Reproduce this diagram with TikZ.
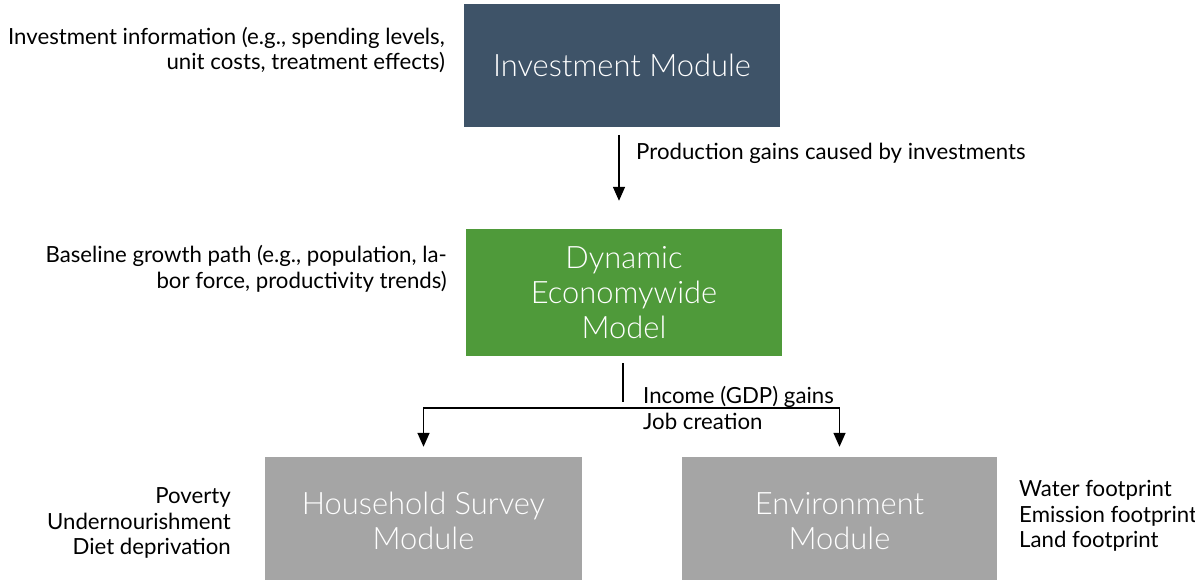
\documentclass[tikz,border=0pt]{standalone}
\usepackage{fontspec}
\setmainfont{Lato}
\newfontfamily\lightfont{Lato Light}
\usetikzlibrary{arrows.meta}
\definecolor{invblue}{RGB}{62,83,104}
\definecolor{dyngreen}{RGB}{79,154,58}
\definecolor{modgray}{RGB}{165,165,165}
\tikzset{
  modbox/.style={rectangle, draw=none, minimum width=316bp, text=white, align=center, inner sep=0pt,
    font=\lightfont\fontsize{31}{35}\selectfont},
  note/.style={inner sep=0pt, font=\fontsize{22.3}{25.8}\selectfont},
  conn/.style={line width=1.5bp, draw=black},
  arr/.style={conn, -{Triangle[width=12bp,length=14bp]}}
}
\begin{document}
\begin{tikzpicture}[x=1bp,y=-1bp]
\useasboundingbox (0,0) rectangle (1195,580);
\node[modbox, fill=invblue, minimum height=123bp] (inv) at (622,65.5) {Investment Module};
\node[modbox, fill=dyngreen, minimum height=127bp] (dyn) at (624,292.5) {Dynamic\\Economywide\\Model};
\node[modbox, fill=modgray, minimum width=317bp, minimum height=128bp] (hh) at (423.5,521) {Household Survey\\Module};
\node[modbox, fill=modgray, minimum width=315bp, minimum height=128bp] (env) at (839.5,521) {Environment\\Module};

\node[note, anchor=east, align=right] (invinfo) at (445,50) {Investment information (e.g., spending levels,\\unit costs, treatment effects)};
\node[note, anchor=east, align=right] (base) at (447,269) {Baseline growth path (e.g., population, la-\\bor force, productivity trends)};
\node[note, anchor=west] (prod) at (636,153) {Production gains caused by investments};
\node[note, anchor=west, align=left] (inc) at (643,408) {Income (GDP) gains\\Job creation};
\node[note, anchor=east, align=right] (pov) at (231,523) {Poverty\\Undernourishment\\Diet deprivation};
\node[note, anchor=west, align=left] (foot) at (1019,516) {Water footprint\\Emission footprint\\Land footprint};

\coordinate (a1s) at (619,135);
\coordinate (split) at (623,408);
\draw[arr] (a1s) -- (a1s |- dyn.north) [shorten >=28bp];
\draw[conn] ([yshift=-7bp]dyn.south -| split) -- ([yshift=6bp]split);
\draw[arr, shorten >=10bp] (split) -| (hh.north);
\draw[arr, shorten >=10bp] (split) -| (env.north);
\end{tikzpicture}
\end{document}
